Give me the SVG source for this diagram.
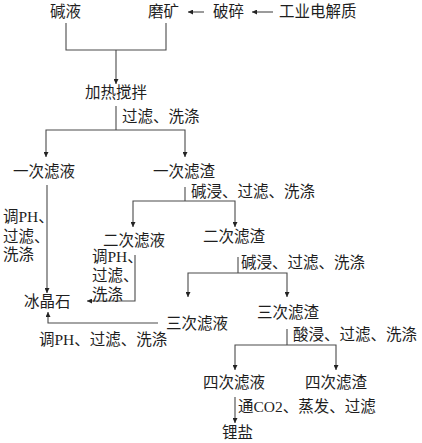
<svg xmlns="http://www.w3.org/2000/svg" width="422" height="443" viewBox="0 0 422 443">
<style>
text{font-family:"Liberation Serif","Noto Sans CJK SC",serif;font-size:15.5px;fill:#1e1e1e}
.c path{fill:none;stroke:#4a4a4a;stroke-width:1.1}
</style>
<defs>
<marker id="a" viewBox="0 0 6 6" refX="6" refY="3" markerWidth="5" markerHeight="5" orient="auto-start-reverse" markerUnits="userSpaceOnUse">
<path d="M0,0 L6,3 L0,6 Z" fill="#222"/>
</marker>
</defs>
<rect width="422" height="443" fill="#fff"/>
<g class="c" id="connectors">
<path d="M66,23 V50 H166 V23"/>
<path d="M116,50 V84" marker-end="url(#a)"/>
<path d="M204,12 H188" marker-end="url(#a)"/>
<path d="M273,12 H252" marker-end="url(#a)"/>
<path d="M116,106 V130"/>
<path d="M46,157 V130 H185 V157" marker-start="url(#a)" marker-end="url(#a)"/>
<path d="M47,185 V293" marker-end="url(#a)"/>
<path d="M185,187 V201"/>
<path d="M133,227 V201 H235 V227" marker-start="url(#a)" marker-end="url(#a)"/>
<path d="M135,255 V301 H87" marker-end="url(#a)"/>
<path d="M238,257 V273"/>
<path d="M188,297 V273 H287 V297" marker-start="url(#a)" marker-end="url(#a)"/>
<path d="M158,323 H48 V312" marker-end="url(#a)"/>
<path d="M287,329 V345"/>
<path d="M235,370 V345 H336 V370" marker-start="url(#a)" marker-end="url(#a)"/>
<path d="M235,397 V423" marker-end="url(#a)"/>
</g>
<g id="n-jianye"><text x="50" y="17">碱液</text></g>
<g id="n-mokuang"><text x="148" y="17">磨矿</text></g>
<g id="n-posui"><text x="213" y="17">破碎</text></g>
<g id="n-gongye"><text x="279" y="17">工业电解质</text></g>
<g id="n-jiare"><text x="85" y="98">加热搅拌</text></g>
<g id="l1"><text x="122" y="122">过滤、洗涤</text></g>
<g id="n-yiciye"><text x="13" y="177">一次滤液</text></g>
<g id="n-yicizha"><text x="153" y="177">一次滤渣</text></g>
<g id="l2"><text x="3" y="222">调PH、</text><text x="3" y="242">过滤、</text><text x="3" y="260">洗涤</text></g>
<g id="l3"><text x="191" y="197">碱浸、过滤、洗涤</text></g>
<g id="n-erciye"><text x="103" y="246">二次滤液</text></g>
<g id="n-ercizha"><text x="203" y="242">二次滤渣</text></g>
<g id="l4"><text x="92" y="262">调PH、</text><text x="92" y="281">过滤、</text><text x="92" y="300">洗涤</text></g>
<g id="l5"><text x="241" y="268">碱浸、过滤、洗涤</text></g>
<g id="n-bingjingshi"><text x="24" y="307">冰晶石</text></g>
<g id="n-sanciye"><text x="166" y="329">三次滤液</text></g>
<g id="n-sancizha"><text x="257" y="318">三次滤渣</text></g>
<g id="l6"><text x="39" y="345">调PH、过滤、洗涤</text></g>
<g id="l7"><text x="293" y="340">酸浸、过滤、洗涤</text></g>
<g id="n-siciye"><text x="203" y="388">四次滤液</text></g>
<g id="n-sicizha"><text x="305" y="388">四次滤渣</text></g>
<g id="l8"><text x="238" y="412">通CO2、蒸发、过滤</text></g>
<g id="n-liyan"><text x="222" y="438">锂盐</text></g>
</svg>
